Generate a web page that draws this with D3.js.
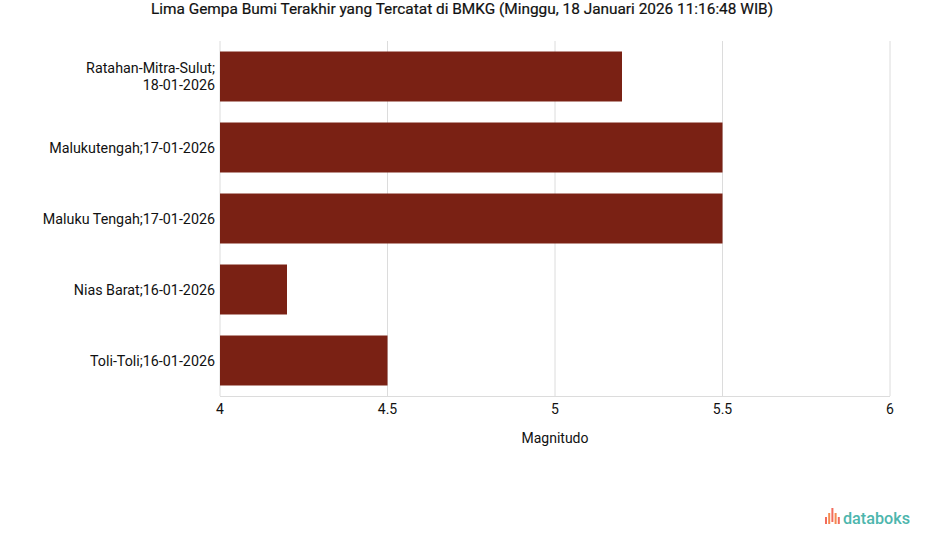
<!DOCTYPE html>
<html><head><meta charset="utf-8">
<script src="https://cdn.jsdelivr.net/npm/d3@7"></script>
<style>body{margin:0;background:#fff;font-family:Roboto,"Liberation Sans",sans-serif;}</style>
</head><body><svg id="c" width="925" height="547"></svg>
<script>
const categories = [["Ratahan-Mitra-Sulut;","18-01-2026"],["Malukutengah;17-01-2026"],["Maluku Tengah;17-01-2026"],["Nias Barat;16-01-2026"],["Toli-Toli;16-01-2026"]];
const magnitudes = [5.2, 5.5, 5.5, 4.2, 4.5];
const xTicks = [4, 4.5, 5, 5.5, 6];
const title = "Lima Gempa Bumi Terakhir yang Tercatat di BMKG (Minggu, 18 Januari 2026 11:16:48 WIB)";

const svg = d3.select("#c");
const m = {l:220, r:35, t:41, b:151};
const W = 925, H = 547;
const x = d3.scaleLinear().domain([4,6]).range([m.l, W-m.r]);
const y = d3.scaleBand().domain(d3.range(categories.length)).range([m.t, H-m.b]).paddingInner(0.296).paddingOuter(0.148);

svg.append("text").attr("x", 462).attr("y", 14).attr("text-anchor","middle")
  .attr("font-size", 15.4).attr("fill","#111").attr("stroke","#111").attr("stroke-width",0.2).text(title);

// grid
svg.append("g").selectAll("line").data(xTicks).join("line")
  .attr("x1", d=>x(d)).attr("x2", d=>x(d)).attr("y1", m.t).attr("y2", H-m.b)
  .attr("stroke", "#dcdcdc").attr("stroke-width", 1);
svg.append("line").attr("x1", m.l).attr("x2", W-m.r).attr("y1", H-m.b+0.5).attr("y2", H-m.b+0.5)
  .attr("stroke","#dcdcdc");

// bars
svg.append("g").selectAll("rect").data(magnitudes).join("rect")
  .attr("x", x(4)).attr("y", (d,i)=>y(i)).attr("width", d=>x(d)-x(4)).attr("height", y.bandwidth())
  .attr("fill", "#7a2114");

// y labels
const yl = svg.append("g").selectAll("text").data(categories).join("text")
  .attr("x", m.l-5).attr("text-anchor","end").attr("font-size", 14.3).attr("fill","#111")
  .attr("y", (d,i)=>y(i)+y.bandwidth()/2);
yl.each(function(d){
  const t = d3.select(this);
  const n = d.length;
  d.forEach((s,k)=>{
    t.append("tspan").attr("x", m.l-5).attr("dy", k===0 ? (0.35 - (n-1)*0.6)+"em" : "1.2em").text(s);
  });
});

// x ticks
svg.append("g").selectAll("text").data(xTicks).join("text")
  .attr("x", d=>x(d)).attr("y", 414).attr("text-anchor","middle").attr("font-size", 14).attr("fill","#111")
  .text(d=>d3.format("")(d));
svg.append("text").attr("x", x(5)).attr("y", 443).attr("text-anchor","middle").attr("font-size",14)
  .attr("fill","#111").text("Magnitudo");

// logo
const lg = svg.append("g").attr("transform","translate(825,512)");
const barsH = [7,11,14,11,7];
const barsC = ["#f26b5b","#f58a4f","#f26b5b","#f58a4f","#f26b5b"];
barsH.forEach((h,i)=>{
  lg.append("rect").attr("x", i*3.2).attr("y", 12-h - (i===2?2:0)).attr("width",2).attr("height",h).attr("fill",barsC[i]);
});
lg.append("text").attr("x", 18).attr("y", 12).attr("font-size", 16.2).attr("font-weight",500)
  .attr("fill","#4db6ad").text("databoks");
</script></body></html>
